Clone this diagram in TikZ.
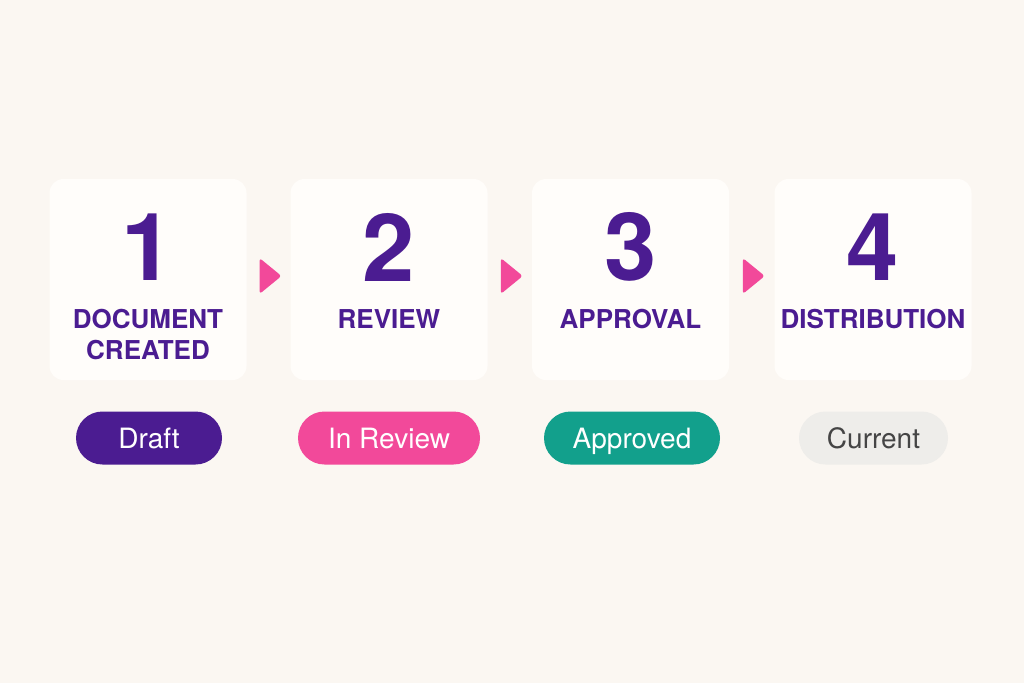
\documentclass[tikz,border=0pt]{standalone}
\usepackage{fontspec}
\setmainfont{TeX Gyre Heros}
\usetikzlibrary{calc}
\definecolor{bg}{HTML}{FBF7F2}
\definecolor{cardfill}{HTML}{FFFDFA}
\definecolor{deep}{HTML}{4B1C91}
\definecolor{hotpink}{HTML}{F2499A}
\definecolor{teal}{HTML}{12A08C}
\definecolor{greypill}{HTML}{EEEDEA}
\definecolor{greytext}{HTML}{454545}
\tikzset{
  card/.style={rectangle, rounded corners=14pt, fill=cardfill, minimum width=197pt, minimum height=201pt, inner sep=0pt},
  num/.style={text=deep, font=\fontsize{94}{94}\selectfont\bfseries, inner sep=0pt},
  lab/.style={text=deep, font=\fontsize{26}{31}\selectfont\bfseries, align=center, inner sep=0pt},
  pill/.style={rounded corners=26.5pt, minimum height=53pt, inner sep=0pt, text height=20pt, text depth=0pt, font=\fontsize{28}{30}\selectfont},
  tri/.style={fill=hotpink, rounded corners=3pt}
}
\begin{document}
\begin{tikzpicture}[x=1pt,y=-1pt]
\fill[bg] (0,0) rectangle (1024,683);
\useasboundingbox (0,0) rectangle (1024,683);

\node[card] (c1) at (148,279.5) {};
\node[card] (c2) at (389,279.5) {};
\node[card] (c3) at (630.5,279.5) {};
\node[card] (c4) at (873,279.5) {};

\node[num] (n1) at (148,247) {1};
\node[num] (n2) at (389,247) {2};
\node[num] (n3) at (630.5,247) {3};
\node[num] (n4) at (873,247) {4};

\node[lab] (l1) at (148,334.5) {DOCUMENT\\CREATED};
\node[lab] (l2) at (389,319) {REVIEW};
\node[lab] (l3) at (630.5,319) {APPROVAL};
\node[lab] (l4) at (873,319) {DISTRIBUTION};

\foreach \a/\b/\i in {c1/c2/1,c2/c3/2,c3/c4/3}{
  \coordinate (m\i) at ($($(\a.east)!0.5!(\b.west)$)+(2,-3.5)$);
  \fill[tri] ($(m\i)+(-11,-18)$) -- ($(m\i)+(11,0)$) -- ($(m\i)+(-11,18)$) -- cycle;
}

\node[pill, fill=deep, text=white, minimum width=146pt] (p1) at (149,438) {Draft};
\node[pill, fill=hotpink, text=white, minimum width=182pt] (p2) at (389,438) {In Review};
\node[pill, fill=teal, text=white, minimum width=176pt] (p3) at (632,438) {Approved};
\node[pill, fill=greypill, text=greytext, minimum width=149pt] (p4) at (873.5,438) {Current};
\end{tikzpicture}
\end{document}
